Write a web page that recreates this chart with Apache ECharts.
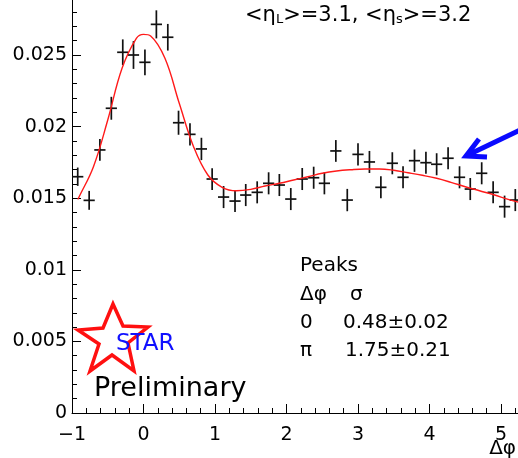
<!DOCTYPE html>
<html>
<head>
<meta charset="utf-8">
<script src="https://cdn.jsdelivr.net/npm/echarts@6/dist/echarts.min.js"></script>
<style>
html,body{margin:0;padding:0;background:#fff;}
#chart{width:518px;height:458px;}
</style>
</head>
<body>
<div id="chart"></div>
<script>
// Bin centers (Δφ) and measured values
const binCenters = [-0.92, -0.76, -0.61, -0.45, -0.29, -0.14, 0.02, 0.18, 0.34, 0.49,
  0.65, 0.81, 0.96, 1.12, 1.28, 1.43, 1.59, 1.75, 1.90, 2.06,
  2.22, 2.38, 2.53, 2.69, 2.85, 3.00, 3.16, 3.32, 3.48, 3.63,
  3.79, 3.95, 4.10, 4.26, 4.42, 4.57, 4.73, 4.89, 5.05, 5.20];
const binHalfWidth = 0.0785;
const counts = [0.0165, 0.01485, 0.01837, 0.02128, 0.02519, 0.0250, 0.02449, 0.02714, 0.02624, 0.02027,
  0.01946, 0.01844, 0.01634, 0.01508, 0.0148, 0.01522, 0.01541, 0.01604, 0.01592, 0.01494,
  0.01634, 0.01643, 0.01604, 0.0183, 0.01487, 0.01806, 0.01753, 0.01576, 0.01744, 0.01646,
  0.01762, 0.01748, 0.01737, 0.01779, 0.01646, 0.01564, 0.01674, 0.01541, 0.01441, 0.01487];
const errors = [0.00064, 0.00066, 0.00076, 0.0008, 0.0009, 0.00097, 0.0009, 0.00098, 0.00093, 0.00084,
  0.00078, 0.00078, 0.00076, 0.00077, 0.00077, 0.00077, 0.00077, 0.00077, 0.00077, 0.00077,
  0.00077, 0.00077, 0.00077, 0.00076, 0.00078, 0.00077, 0.00077, 0.00077, 0.00077, 0.00077,
  0.00078, 0.00077, 0.00077, 0.00077, 0.00077, 0.00077, 0.00077, 0.00077, 0.00077, 0.00077];
// Fit curve
const fitX = [-0.92, -0.9, -0.7, -0.5, -0.3, -0.1, 0, 0.1, 0.3, 0.5, 0.7, 0.9, 1.1, 1.3, 1.5, 1.7, 1.9, 2.1,
  2.3, 2.5, 2.7, 2.9, 3.1, 3.3, 3.5, 3.7, 3.9, 4.1, 4.3, 4.5, 4.7, 4.9, 5.1, 5.24];
const fitY = [0.01492, 0.0151, 0.0172, 0.02046, 0.02407, 0.02616, 0.02644, 0.02633, 0.02477, 0.02163,
  0.0186, 0.01662, 0.01576, 0.01552, 0.01562, 0.01585, 0.01604, 0.01627,
  0.0165, 0.01674, 0.0169, 0.01699, 0.01704, 0.01704, 0.01695, 0.01678, 0.0166, 0.01639,
  0.01611, 0.0158, 0.01552, 0.01524, 0.01492, 0.01473];
const xTicks = [-1, 0, 1, 2, 3, 4, 5];
const yTicks = [0, 0.005, 0.01, 0.015, 0.02, 0.025];

const font = 'DejaVu Sans';
const chart = echarts.init(document.getElementById('chart'));

const pts = binCenters.map((x, i) => [x, counts[i], errors[i]]);
const fit = fitX.map((x, i) => [x, fitY[i]]);

chart.setOption({
  animation: false,
  backgroundColor: '#fff',
  grid: { left: 72, top: -16.6, width: 500.5, height: 429.6, outerBoundsMode: 'none', containLabel: false },
  xAxis: {
    type: 'value', min: -1, max: 6, interval: 1,
    axisLine: { show: true, onZero: false, lineStyle: { color: '#000', width: 1 } },
    axisTick: { show: true, inside: true, length: 9, lineStyle: { color: '#000' } },
    minorTick: { show: true, splitNumber: 5, length: 5, lineStyle: { color: '#000' } },
    splitLine: { show: false },
    axisLabel: {
      color: '#000', fontFamily: font, fontSize: 19, margin: 13,
      showMaxLabel: false,
      formatter: v => xTicks.indexOf(v) >= 0 ? (v < 0 ? '\u2212' + Math.abs(v) : String(v)) : ''
    }
  },
  yAxis: {
    type: 'value', min: 0, max: 0.03, interval: 0.005,
    axisLine: { show: true, onZero: false, lineStyle: { color: '#000', width: 1 } },
    axisTick: { show: true, inside: true, length: 9, lineStyle: { color: '#000' } },
    minorTick: { show: true, splitNumber: 5, length: 5, lineStyle: { color: '#000' } },
    splitLine: { show: false },
    axisLabel: {
      color: '#000', fontFamily: font, fontSize: 19, margin: 5,
      showMaxLabel: false,
      formatter: v => {
        const t = yTicks.find(k => Math.abs(k - v) < 1e-9);
        return t === undefined ? '' : String(t);
      }
    }
  },
  series: [
    {
      type: 'custom',
      data: pts,
      z: 2,
      renderItem: (params, api) => {
        const x = api.value(0), y = api.value(1), e = api.value(2);
        const l = api.coord([x - binHalfWidth, y]);
        const r = api.coord([x + binHalfWidth, y]);
        const t = api.coord([x, y + e]);
        const b = api.coord([x, y - e]);
        const st = { stroke: '#111', lineWidth: 1.7 };
        return {
          type: 'group',
          children: [
            { type: 'line', shape: { x1: l[0], y1: l[1], x2: r[0], y2: r[1] }, style: st },
            { type: 'line', shape: { x1: t[0], y1: t[1], x2: b[0], y2: b[1] }, style: st }
          ]
        };
      }
    },
    {
      type: 'line',
      data: fit,
      smooth: 0.4,
      showSymbol: false,
      z: 3,
      lineStyle: { color: '#ff1a1a', width: 1.4 }
    }
  ],
  graphic: [
    {
      type: 'text', left: 245, top: 5,
      style: {
        text: '{a|<η}{s|L}{a|>=3.1, <η}{s|s}{a|>=3.2}',
        fill: '#000',
        rich: {
          a: { fontFamily: font, fontSize: 21, lineHeight: 26, fill: '#000', verticalAlign: 'bottom' },
          s: { fontFamily: font, fontSize: 13, lineHeight: 26, fill: '#000', verticalAlign: 'bottom' }
        }
      }
    },
    { type: 'text', left: 300, top: 256, style: { text: 'Peaks', font: '20px "DejaVu Sans"', fill: '#000' } },
    { type: 'text', left: 300, top: 285, style: { text: 'Δφ', font: '20px "DejaVu Sans"', fill: '#000' } },
    { type: 'text', left: 350, top: 285, style: { text: 'σ', font: '20px "DejaVu Sans"', fill: '#000' } },
    { type: 'text', left: 300, top: 313, style: { text: '0', font: '20px "DejaVu Sans"', fill: '#000' } },
    { type: 'text', left: 343, top: 313, style: { text: '0.48±0.02', font: '20px "DejaVu Sans"', fill: '#000' } },
    { type: 'text', left: 300, top: 341, style: { text: 'π', font: '20px "DejaVu Sans"', fill: '#000' } },
    { type: 'text', left: 345, top: 341, style: { text: '1.75±0.21', font: '20px "DejaVu Sans"', fill: '#000' } },
    { type: 'text', left: 94, top: 375, style: { text: 'Preliminary', font: '27px "DejaVu Sans"', fill: '#000' } },
    {
      type: 'polygon', z: 10,
      shape: { points: [[113, 304], [123, 326], [148, 327], [128, 343], [134, 371], [112, 355], [90, 371], [99, 344], [78, 330], [103, 328]] },
      style: { fill: 'none', stroke: '#ff1010', lineWidth: 3.5 }
    },
    { type: 'text', z: 11, left: 116, top: 333, style: { text: 'STAR', font: '23px "DejaVu Sans"', fill: '#1010ff' } },
    {
      type: 'polyline', z: 10,
      shape: { points: [[520, 130], [470, 154]] },
      style: { stroke: '#0a0aff', lineWidth: 5, fill: 'none' }
    },
    {
      type: 'polyline', z: 10,
      shape: { points: [[479, 139], [466, 156], [487, 157]] },
      style: { stroke: '#0a0aff', lineWidth: 5, fill: 'none', lineJoin: 'miter' }
    },
    { type: 'text', right: 2, top: 439, style: { text: 'Δφ', font: '20px "DejaVu Sans"', fill: '#000' } }
  ]
});
</script>
</body>
</html>
